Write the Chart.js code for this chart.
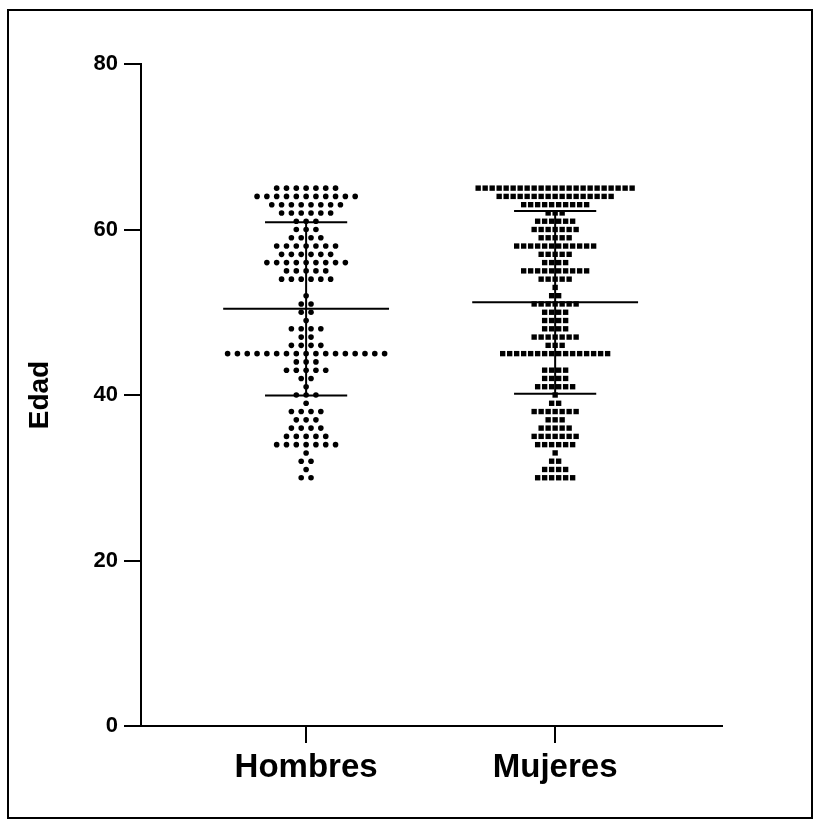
<!DOCTYPE html>
<html>
<head>
<meta charset="utf-8">
<title>Edad por sexo</title>
<script src="https://cdn.jsdelivr.net/npm/chart.js@4.4.1/dist/chart.umd.min.js"></script>
<style>
  html, body { margin: 0; padding: 0; background: #fff; }
  #contenedor { position: relative; width: 815px; height: 821px; }
  #marco { position: absolute; left: 7px; top: 9px; width: 802px; height: 806px; border: 2px solid #000; pointer-events: none; }
  canvas { position: absolute; left: 0; top: 0; }
</style>
</head>
<body>
<div id="contenedor">
  <canvas id="graficoEdad"></canvas>
  <div id="marco"></div>
</div>
<script>
const grupos = ["Hombres", "Mujeres"];

// edades de cada fila del gráfico de puntos (de arriba hacia abajo)
const edades = [65, 64, 63, 62, 61, 60, 59, 58, 57, 56, 55, 54,
  53, 52, 51, 50, 49, 48, 47, 46, 45, 44, 43, 42,
  41, 40, 39, 38, 37, 36, 35, 34, 33, 32, 31, 30];

// cantidad de personas en cada edad
const conteoHombres = [7, 11, 8, 6, 3, 3, 4, 7, 6, 9, 5, 6,
  0, 1, 2, 2, 1, 4, 2, 4, 17, 3, 5, 2,
  1, 3, 1, 4, 3, 4, 5, 7, 1, 2, 1, 2];

const conteoMujeres = [23, 17, 10, 3, 6, 7, 5, 12, 5, 4, 10, 5,
  1, 2, 7, 4, 4, 4, 7, 3, 16, 0, 4, 4,
  6, 1, 2, 7, 3, 5, 7, 6, 1, 2, 4, 6];

const ticksY = [0, 20, 40, 60, 80];

const fuente = "'Liberation Sans', Arial, Helvetica, sans-serif";

// separación horizontal entre puntos, en unidades del eje x
const separacionHombres = 0.0394;
const separacionMujeres = 0.0281;
const anchoMedia = 0.333;
const anchoDesvio = 0.165;

function armarPuntos(conteos, indiceGrupo, separacion) {
  const puntos = [];
  edades.forEach((edad, i) => {
    const n = conteos[i];
    for (let k = 0; k < n; k++) {
      puntos.push({ x: indiceGrupo + (k - (n - 1) / 2) * separacion, y: edad });
    }
  });
  return puntos;
}

function calcularEstadisticas(conteos) {
  let total = 0;
  let suma = 0;
  edades.forEach((edad, i) => {
    total += conteos[i];
    suma += edad * conteos[i];
  });
  const media = suma / total;
  let sumaCuadrados = 0;
  edades.forEach((edad, i) => {
    sumaCuadrados += conteos[i] * (edad - media) * (edad - media);
  });
  const desvio = Math.sqrt(sumaCuadrados / (total - 1));
  return { media, desvio };
}

function lineasResumen(conteos, indiceGrupo) {
  const { media, desvio } = calcularEstadisticas(conteos);
  const estilo = {
    type: "scatter",
    showLine: true,
    borderColor: "#000",
    borderWidth: 2,
    pointRadius: 0,
    order: 0
  };
  return [
    { ...estilo, data: [{ x: indiceGrupo - anchoMedia, y: media }, { x: indiceGrupo + anchoMedia, y: media }] },
    { ...estilo, data: [{ x: indiceGrupo - anchoDesvio, y: media + desvio }, { x: indiceGrupo + anchoDesvio, y: media + desvio }] },
    { ...estilo, data: [{ x: indiceGrupo - anchoDesvio, y: media - desvio }, { x: indiceGrupo + anchoDesvio, y: media - desvio }] },
    { ...estilo, data: [{ x: indiceGrupo, y: media - desvio }, { x: indiceGrupo, y: media + desvio }] }
  ];
}

Chart.defaults.font.family = fuente;
Chart.defaults.color = "#000";

const canvas = document.getElementById("graficoEdad");
canvas.width = 815;
canvas.height = 821;

new Chart(canvas, {
  type: "scatter",
  data: {
    datasets: [
      {
        label: "Hombres",
        data: armarPuntos(conteoHombres, 0, separacionHombres),
        pointStyle: "circle",
        pointRadius: 2.8,
        borderWidth: 0,
        backgroundColor: "#000",
        order: 1
      },
      {
        label: "Mujeres",
        data: armarPuntos(conteoMujeres, 1, separacionMujeres),
        pointStyle: "rect",
        pointRadius: 3.8,
        borderWidth: 0,
        backgroundColor: "#000",
        order: 1
      },
      ...lineasResumen(conteoHombres, 0),
      ...lineasResumen(conteoMujeres, 1)
    ]
  },
  options: {
    responsive: false,
    animation: false,
    events: [],
    layout: {
      padding: { top: 64, right: 93, left: 0, bottom: 0 }
    },
    plugins: {
      legend: { display: false },
      tooltip: { enabled: false }
    },
    scales: {
      x: {
        type: "linear",
        min: -0.663,
        max: 1.67,
        afterBuildTicks: (escala) => {
          escala.ticks = grupos.map((g, i) => ({ value: i }));
        },
        afterFit: (escala) => {
          escala.height = 95;
        },
        ticks: {
          callback: (valor) => grupos[valor],
          font: { size: 33, weight: "bold" },
          color: "#000",
          padding: 5,
          maxRotation: 0
        },
        grid: {
          drawOnChartArea: false,
          drawTicks: true,
          tickLength: 17,
          color: "#000",
          lineWidth: 2
        },
        border: { display: true, color: "#000", width: 2 }
      },
      y: {
        type: "linear",
        min: 0,
        max: 80,
        afterBuildTicks: (escala) => {
          escala.ticks = ticksY.map((v) => ({ value: v }));
        },
        afterFit: (escala) => {
          escala.width = 141;
        },
        ticks: {
          font: { size: 22, weight: "bold" },
          color: "#000",
          padding: 6
        },
        grid: {
          drawOnChartArea: false,
          drawTicks: true,
          tickLength: 17,
          color: "#000",
          lineWidth: 2
        },
        border: { display: true, color: "#000", width: 2 },
        title: {
          display: true,
          text: "Edad",
          font: { size: 28, weight: "bold" },
          color: "#000",
          padding: { top: 23, bottom: 0 }
        }
      }
    }
  }
});
</script>
</body>
</html>
